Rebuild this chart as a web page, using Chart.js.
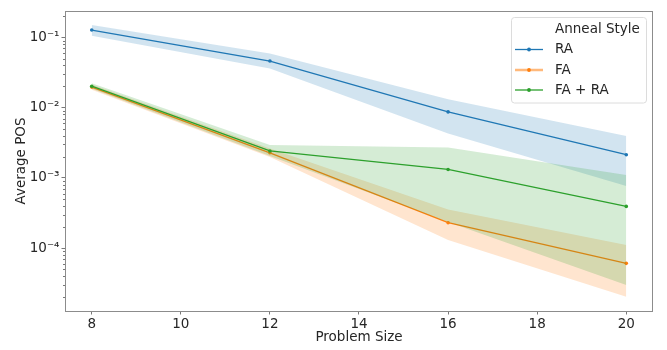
<!DOCTYPE html>
<html>
<head>
<meta charset="utf-8">
<script src="https://cdn.jsdelivr.net/npm/chart.js@4.4.0/dist/chart.umd.min.js"></script>
<style>
  html, body { margin: 0; padding: 0; background: #ffffff; }
  #wrap { width: 667px; height: 350px; position: relative; }
</style>
</head>
<body>
<div id="wrap"><canvas id="c" width="667" height="350"></canvas></div>
<script>
// ---- data ----
const sizes = [8, 12, 16, 20];

const raMean = [0.127, 0.046, 0.0087, 0.00214];
const raLow  = [0.105, 0.036, 0.0043, 0.00077];
const raHigh = [0.150, 0.059, 0.0132, 0.00394];

const faMean = [0.0196, 0.00228, 0.000231, 0.000061];
const faLow  = [0.0180, 0.00198, 0.000131, 0.0000204];
const faHigh = [0.0213, 0.00262, 0.000357, 0.000111];

const faraMean = [0.0202, 0.00242, 0.00132, 0.000394];
const faraLow  = [0.0185, 0.00205, 0.000236, 0.0000299];
const faraHigh = [0.0222, 0.00294, 0.00272, 0.00110];

const seriesLabels = ['RA', 'FA', 'FA + RA'];
const legendTitle = 'Anneal Style';
const xTicks = [8, 10, 12, 14, 16, 18, 20];
const yTicks = [1e-4, 1e-3, 1e-2, 1e-1];
const xTitle = 'Problem Size';
const yTitle = 'Average POS';

// ---- styling ----
const FONT = '"DejaVu Sans", "Liberation Sans", sans-serif';
const colors = ['#1f77b4', '#ff7f0e', '#2ca02c'];
const bandColors = ['rgba(31,119,180,0.2)', 'rgba(255,127,14,0.2)', 'rgba(44,160,44,0.2)'];

const pts = arr => arr.map((v, i) => ({ x: sizes[i], y: v }));

const groups = [
  { label: seriesLabels[0], mean: raMean, low: raLow, high: raHigh },
  { label: seriesLabels[1], mean: faMean, low: faLow, high: faHigh },
  { label: seriesLabels[2], mean: faraMean, low: faraLow, high: faraHigh }
];

const datasets = [];
groups.forEach((g, k) => {
  const baseOrder = 10 - k * 3; // later groups drawn on top
  datasets.push({
    label: g.label + ' upper', data: pts(g.high), borderColor: 'rgba(0,0,0,0)', borderWidth: 1,
    pointRadius: 0, pointHoverRadius: 0, fill: false, order: baseOrder, tension: 0
  });
  datasets.push({
    label: g.label + ' lower', data: pts(g.low), borderColor: 'rgba(0,0,0,0)', borderWidth: 1,
    pointRadius: 0, pointHoverRadius: 0, fill: '-1', backgroundColor: bandColors[k], order: baseOrder, tension: 0
  });
  datasets.push({
    label: g.label, data: pts(g.mean), borderColor: colors[k], backgroundColor: colors[k], borderWidth: 1.3,
    pointRadius: 1.8, pointStyle: 'circle', pointBorderWidth: 0, pointBackgroundColor: colors[k],
    fill: false, order: baseOrder - 1, tension: 0
  });
});

const supMap = { '-': '\u207B', '0': '\u2070', '1': '\u00B9', '2': '\u00B2', '3': '\u00B3', '4': '\u2074', '5': '\u2075', '6': '\u2076', '7': '\u2077', '8': '\u2078', '9': '\u2079' };
const sup = s => String(s).split('').map(c => supMap[c] || c).join('');

const framePlugin = {
  id: 'frameAndLegend',
  afterDatasetsDraw(chart) {
    const { ctx, chartArea: a, scales } = chart;
    ctx.save();
    // minor y ticks (log scale)
    const ys = scales.y;
    ctx.strokeStyle = '#555';
    ctx.lineWidth = 0.8;
    for (let e = -6; e <= 1; e++) {
      for (let m = 2; m <= 9; m++) {
        const v = m * Math.pow(10, e);
        if (v < ys.min || v > ys.max) continue;
        const py = Math.round(ys.getPixelForValue(v)) + 0.5;
        ctx.beginPath();
        ctx.moveTo(a.left - 2, py);
        ctx.lineTo(a.left, py);
        ctx.stroke();
      }
    }
    // frame
    ctx.strokeStyle = '#8c8c8c';
    ctx.lineWidth = 1;
    ctx.strokeRect(Math.round(a.left) + 0.5, Math.round(a.top) + 0.5, Math.round(a.right - a.left) - 1, Math.round(a.bottom - a.top));
    ctx.restore();
  },
  afterDraw(chart) {
    const { ctx } = chart;
    ctx.save();
    const bx = 511.5, by = 17.5, bw = 135, bh = 85.5, r = 3;
    ctx.fillStyle = 'rgba(255,255,255,0.8)';
    ctx.strokeStyle = '#dcdcdc';
    ctx.lineWidth = 1;
    ctx.beginPath();
    ctx.moveTo(bx + r, by);
    ctx.lineTo(bx + bw - r, by);
    ctx.arcTo(bx + bw, by, bx + bw, by + r, r);
    ctx.lineTo(bx + bw, by + bh - r);
    ctx.arcTo(bx + bw, by + bh, bx + bw - r, by + bh, r);
    ctx.lineTo(bx + r, by + bh);
    ctx.arcTo(bx, by + bh, bx, by + bh - r, r);
    ctx.lineTo(bx, by + r);
    ctx.arcTo(bx, by, bx + r, by, r);
    ctx.closePath();
    ctx.fill();
    ctx.stroke();

    ctx.font = '13.5px ' + FONT;
    ctx.fillStyle = '#262626';
    ctx.textBaseline = 'middle';
    ctx.textAlign = 'left';
    const textX = 555;
    ctx.fillText(legendTitle, textX, 29);
    const rows = [49.5, 70, 90];
    seriesLabels.forEach((lab, k) => {
      const y = rows[k];
      ctx.strokeStyle = colors[k];
      ctx.lineWidth = k === 1 ? 2.5 : 1.3;
      ctx.globalAlpha = k === 1 ? 0.55 : 1;
      ctx.beginPath();
      ctx.moveTo(515, y);
      ctx.lineTo(543, y);
      ctx.stroke();
      ctx.globalAlpha = 1;
      ctx.fillStyle = colors[k];
      ctx.beginPath();
      ctx.arc(529, y, 1.9, 0, Math.PI * 2);
      ctx.fill();
      ctx.fillStyle = '#262626';
      ctx.fillText(lab, textX, y);
    });
    ctx.restore();
  }
};

new Chart(document.getElementById('c'), {
  type: 'line',
  data: { datasets },
  options: {
    responsive: false,
    animation: false,
    events: [],
    layout: { padding: { left: 0, right: 14, top: 11, bottom: 0 } },
    plugins: {
      legend: { display: false },
      tooltip: { enabled: false },
      filler: { drawTime: 'beforeDatasetDraw' }
    },
    scales: {
      x: {
        type: 'linear',
        min: 7.4,
        max: 20.6,
        afterBuildTicks: s => { s.ticks = xTicks.map(v => ({ value: v })); },
        afterFit: s => { s.height = 39; },
        grid: { display: true, drawOnChartArea: false, drawTicks: true, tickLength: 3.5, color: '#555', tickWidth: 0.8 },
        border: { display: false },
        ticks: { padding: 1.5, color: '#262626', font: { family: FONT, size: 13.5 }, maxRotation: 0, callback: v => String(v) },
        title: { display: true, text: xTitle, color: '#262626', font: { family: FONT, size: 13.5 }, padding: { top: 0, bottom: 4 } }
      },
      y: {
        type: 'logarithmic',
        min: 1.28e-5,
        max: 0.237,
        afterBuildTicks: s => { s.ticks = yTicks.map(v => ({ value: v, major: true })); },
        afterFit: s => { s.width = 65; },
        grid: { display: true, drawOnChartArea: false, drawTicks: true, tickLength: 3.5, color: '#555', tickWidth: 0.8 },
        border: { display: false },
        ticks: { padding: 2, color: '#262626', font: { family: FONT, size: 13.5 },
          callback: v => '10' + sup(Math.round(Math.log10(v))) },
        title: { display: true, text: yTitle, color: '#262626', font: { family: FONT, size: 13.5 }, padding: { top: 13, bottom: 0 } }
      }
    }
  },
  plugins: [framePlugin]
});
</script>
</body>
</html>
